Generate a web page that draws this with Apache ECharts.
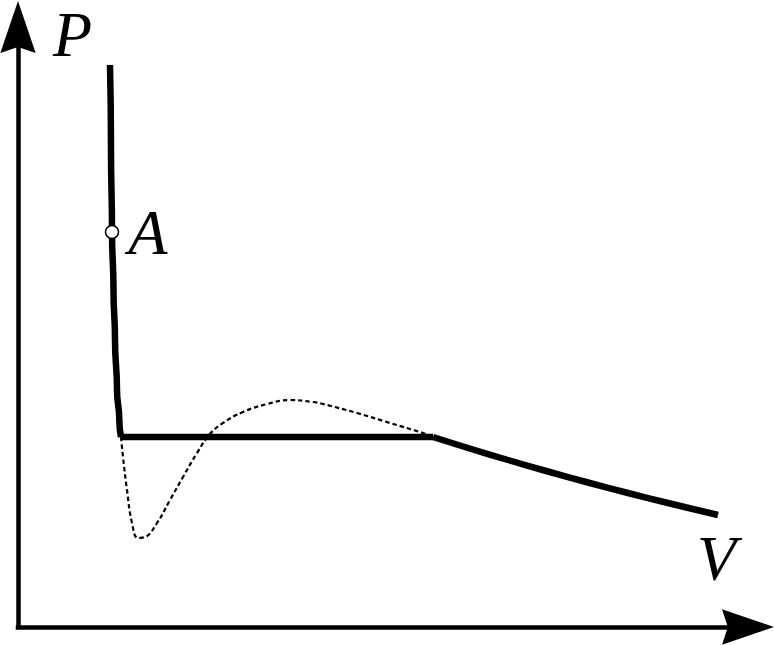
<!DOCTYPE html>
<html>
<head>
<meta charset="utf-8">
<script src="https://cdn.jsdelivr.net/npm/echarts@6/dist/echarts.min.js"></script>
<style>html,body{margin:0;padding:0;background:#fff}#c{width:775px;height:645px}</style>
</head>
<body>
<div id="c"></div>
<script>
// Values (arbitrary units: V horizontal, P vertical)
var liquidBranch = [[92,562],[93,477],[94,395],[95.5,337],[97,287],[99,237],[101.3,207],[103,190]];
var coexistence = [[103,190],[415,190]];
var gasBranch = [[415,190],[450,179],[490,167],[530,155.5],[570,144.5],[610,134],[650,124],[700,112]];
var vdwLoop = [[103,190],[105,170],[109,137],[114,104],[120,89],[127,90],[139,104],[152,127],[165,150],[179,174],[192,193],[205,204],[225,215],[249,223],[272,227],[295,225],[305,223],[339,214],[372,204],[405,194],[415,190]];
var pointA = [[94,395]];
var labels = {P: 'P', V: 'V', A: 'A'};

var chart = echarts.init(document.getElementById('c'), null, {renderer: 'canvas'});
var arrow = 'path://M18,0 L36,53 L18,47 L0,53 Z';
var letterFont = 'italic 64px "Liberation Serif", "DejaVu Serif", serif';
var thick = {color: '#000', width: 6.5, cap: 'butt', join: 'round'};
chart.setOption({
  animation: false,
  backgroundColor: '#fff',
  grid: {left: 18, right: 27, top: 27, bottom: 18},
  xAxis: {
    type: 'value', min: 0, max: 730,
    axisLine: {show: true, onZero: false, symbol: ['none', arrow], symbolSize: [36, 52],
      lineStyle: {color: '#000', width: 4.5, cap: 'square'}},
    axisTick: {show: false}, axisLabel: {show: false}, splitLine: {show: false}
  },
  yAxis: {
    type: 'value', min: 0, max: 600,
    axisLine: {show: true, onZero: false, symbol: ['none', arrow], symbolSize: [38, 52],
      lineStyle: {color: '#000', width: 4.5, cap: 'square'}},
    axisTick: {show: false}, axisLabel: {show: false}, splitLine: {show: false}
  },
  series: [
    {type: 'line', data: vdwLoop, smooth: 0.45, showSymbol: false, z: 2,
      lineStyle: {color: '#000', width: 2.2, type: [4.5, 3]}},
    {type: 'line', data: liquidBranch, smooth: 0.5, smoothMonotone: 'y', showSymbol: false, z: 3, lineStyle: thick},
    {type: 'line', data: coexistence, showSymbol: false, z: 3, lineStyle: thick},
    {type: 'line', data: gasBranch, smooth: 0.3, showSymbol: false, z: 3, lineStyle: thick},
    {type: 'scatter', data: pointA, symbol: 'circle', symbolSize: 13, z: 5,
      itemStyle: {color: '#fff', borderColor: '#000', borderWidth: 1.5, opacity: 1},
      label: {show: true, formatter: labels.A, position: 'right', distance: 9, offset: [0, 5],
        color: '#000', fontStyle: 'italic', fontSize: 64, fontFamily: '"Liberation Serif", "DejaVu Serif", serif'}}
  ],
  graphic: [
    {type: 'text', left: 53, top: 7, style: {text: labels.P, x: 0, y: 0, font: letterFont, fill: '#000'}},
    {type: 'text', left: 697, top: 531, style: {text: labels.V, x: 0, y: 0, font: letterFont, fill: '#000'}}
  ]
});
</script>
</body>
</html>
